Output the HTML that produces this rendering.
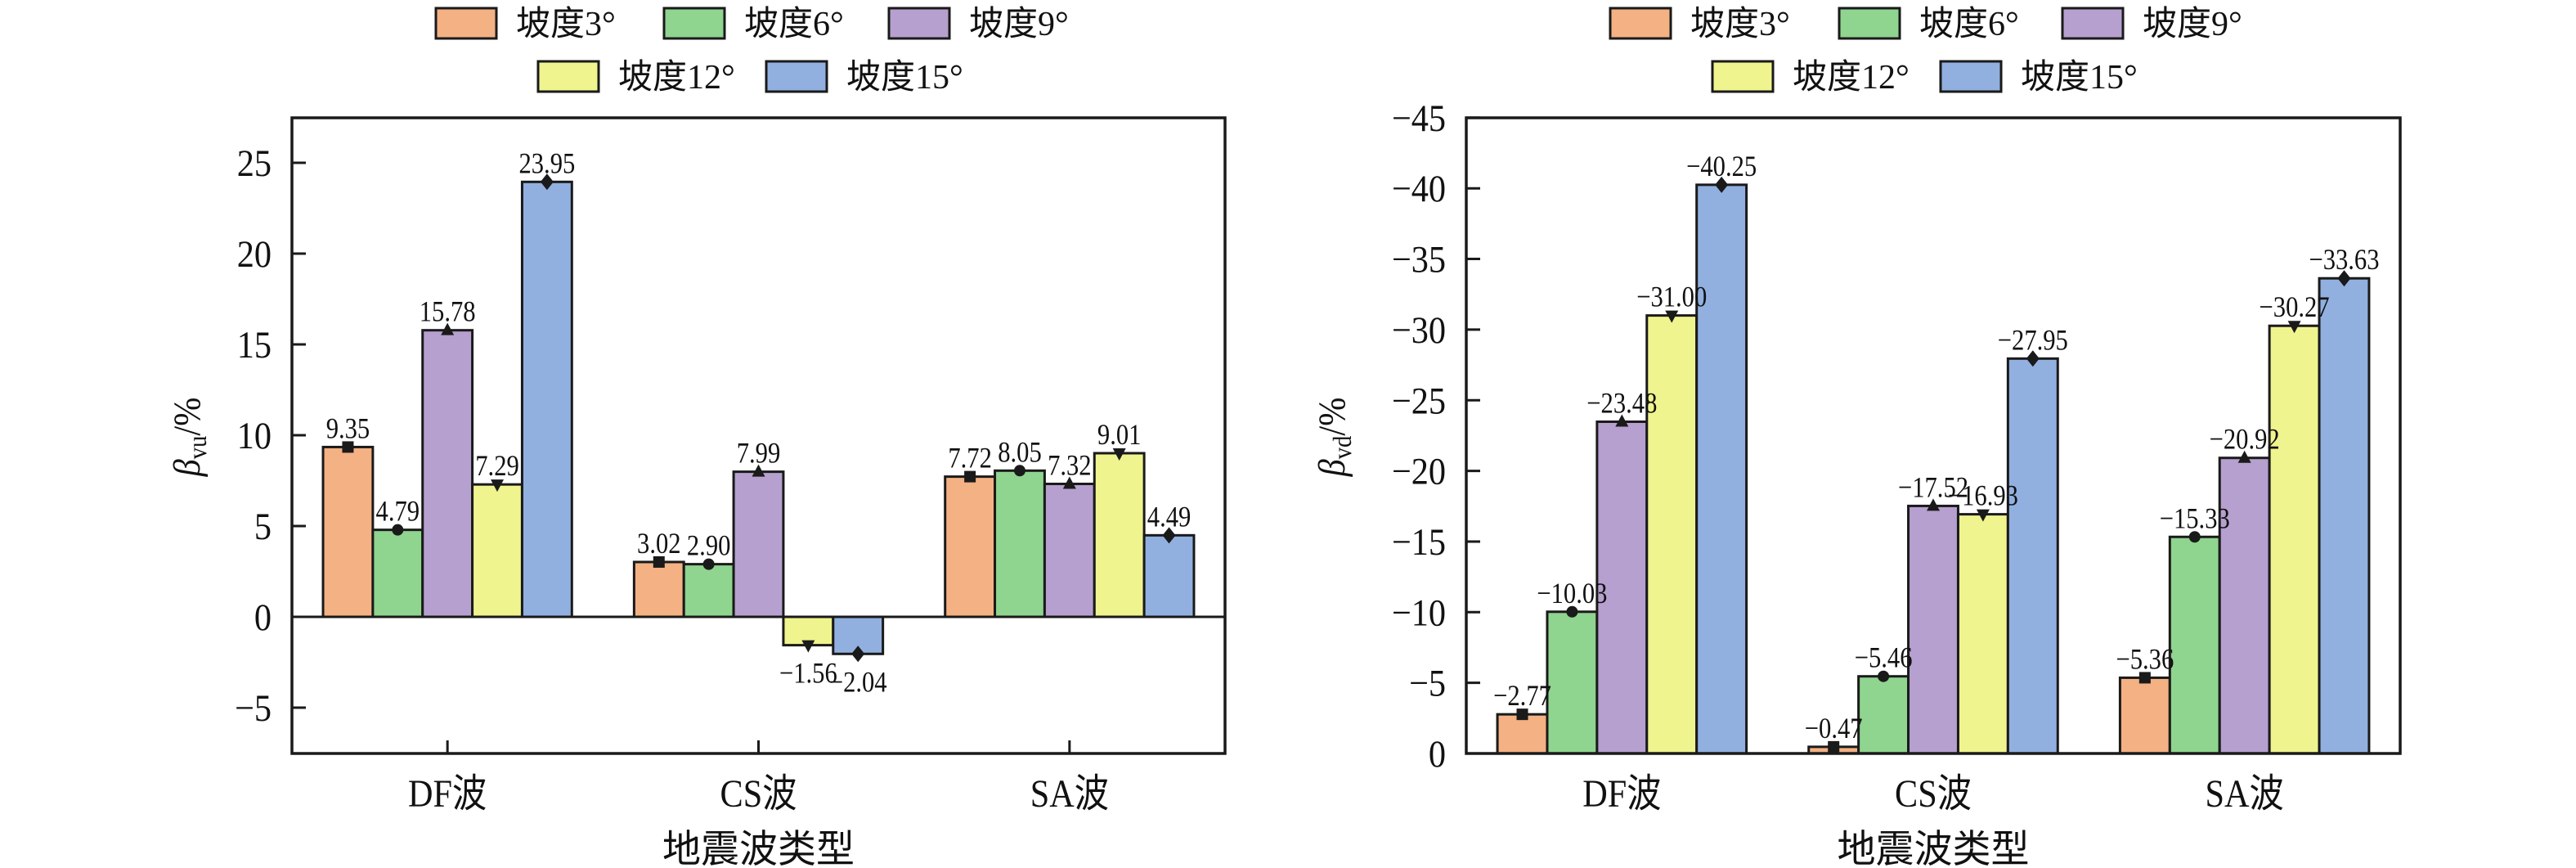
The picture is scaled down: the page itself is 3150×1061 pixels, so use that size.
<!DOCTYPE html>
<html><head><meta charset="utf-8">
<style>
html,body{margin:0;padding:0;background:#fff;}
svg{display:block;}
text{font-family:"Liberation Serif","Noto Serif CJK SC",serif;fill:#111;}
.cjk{font-family:"Liberation Serif","Noto Sans CJK SC",sans-serif;}
</style></head>
<body>
<svg id="s" width="3150" height="1061" xmlns="http://www.w3.org/2000/svg"></svg>
<script>
const NS="http://www.w3.org/2000/svg";
const svg=document.getElementById('s');
function el(tag,attrs,parent,txt){const e=document.createElementNS(NS,tag);for(const k in attrs)e.setAttribute(k,attrs[k]);if(txt!==undefined)e.textContent=txt;(parent||svg).appendChild(e);return e;}
const colors=["#F4B183","#8FD48F","#B6A0CF","#EFF48E","#91B0E0"];
const names=["坡度3°","坡度6°","坡度9°","坡度12°","坡度15°"];
function txt(x,y,s,size,anchor,sx,cls){
  const g=el('g',{transform:`translate(${x},${y}) scale(${sx||0.85},1)`});
  const t=el('text',{x:0,y:0,'font-size':size,'text-anchor':anchor||'middle'},g,s);
  if(cls)t.setAttribute('class',cls);
  return t;
}
function marker(i,x,y){
  const c="#1a1a1a",r=7;
  if(i==0)el('rect',{x:x-r,y:y-r,width:2*r,height:2*r,fill:c});
  else if(i==1)el('circle',{cx:x,cy:y,r:r,fill:c});
  else if(i==2)el('polygon',{points:`${x},${y-9} ${x-8},${y+6} ${x+8},${y+6}`,fill:c});
  else if(i==3)el('polygon',{points:`${x},${y+9} ${x-8},${y-6} ${x+8},${y-6}`,fill:c});
  else el('polygon',{points:`${x},${y-10} ${x+8},${y} ${x},${y+10} ${x-8},${y}`,fill:c});
}
function legend(sw){
  for(let i=0;i<5;i++){
    const [x,y]=sw[i];
    el('rect',{x:x,y:y,width:74,height:37,fill:colors[i],stroke:"#1a1a1a","stroke-width":3});
    el('text',{x:x+98,y:y+33,'font-size':42,'class':'cjk'},svg,names[i]);
  }
}
function chart(o){
  const {L,R,T,B,y0,ppu,data,labels,ticks,tickLab,cats,xticks,ylab,sub}=o;
  const w=R-L, cw=w/3, bw=cw*0.16;
  const ann=[];
  for(let c=0;c<3;c++){
    const cx=L+cw*(c+0.5);
    for(let i=0;i<5;i++){
      const v=data[c][i];
      const x=cx-cw*0.4+bw*i;
      const yv=y0 - v*ppu;
      const top=Math.min(y0,yv),h=Math.abs(yv-y0);
      el('rect',{x:x,y:top,width:bw,height:h,fill:colors[i],stroke:"#1a1a1a","stroke-width":3});
      ann.push([i,x+bw/2,yv,labels[c][i]]);
    }
  }
  el('rect',{x:L,y:T,width:w,height:B-T,fill:"none",stroke:"#1a1a1a","stroke-width":3.5});
  if(o.zero) el('line',{x1:L,x2:R,y1:y0,y2:y0,stroke:"#1a1a1a","stroke-width":3});
  ann.forEach(([i,x,yv,lab])=>{
    marker(i,x,yv);
    const below=(yv>y0+1);
    txt(x, below? yv+46 : yv-11, lab, 36);
  });
  ticks.forEach((v,k)=>{
    const y=y0-v*ppu;
    el('line',{x1:L,x2:L+17,y1:y,y2:y,stroke:"#1a1a1a","stroke-width":3});
    txt(L-25,y+16,tickLab[k],47,'end',0.9);
  });
  for(let c=0;c<3;c++){
    const cx=L+cw*(c+0.5);
    if(xticks) el('line',{x1:cx,x2:cx,y1:B,y2:B-16,stroke:"#1a1a1a","stroke-width":3});
    txt(cx,986,cats[c],48,'middle',0.88,'cjk');
  }
  el('text',{x:(L+R)/2,y:1054,'font-size':47,'text-anchor':'middle','class':'cjk'},svg,"地震波类型");
  const g=el('g',{transform:`translate(${ylab[0]},${ylab[1]}) rotate(-90) scale(0.9,1)`});
  const t=el('text',{x:0,y:0,'font-size':47,'text-anchor':'middle'},g);
  el('tspan',{'font-style':'italic'},t,"β");
  el('tspan',{'font-size':32,dy:8},t,sub);
  el('tspan',{dy:-8},t,"/%");
}
const cats=["DF波","CS波","SA波"];
chart({L:357,R:1498,T:144,B:921,y0:754,ppu:22.2,zero:true,xticks:true,
  data:[[9.35,4.79,15.78,7.29,23.95],[3.02,2.90,7.99,-1.56,-2.04],[7.72,8.05,7.32,9.01,4.49]],
  labels:[["9.35","4.79","15.78","7.29","23.95"],["3.02","2.90","7.99","−1.56","−2.04"],["7.72","8.05","7.32","9.01","4.49"]],
  ticks:[-5,0,5,10,15,20,25],tickLab:["−5","0","5","10","15","20","25"],
  cats:cats,ylab:[244,534],sub:"vu"});
chart({L:1793,R:2935,T:144,B:921,y0:921,ppu:17.27,zero:false,xticks:false,
  data:[[2.77,10.03,23.48,31.00,40.25],[0.47,5.46,17.52,16.93,27.95],[5.36,15.33,20.92,30.27,33.63]],
  labels:[["−2.77","−10.03","−23.48","−31.00","−40.25"],["−0.47","−5.46","−17.52","−16.93","−27.95"],["−5.36","−15.33","−20.92","−30.27","−33.63"]],
  ticks:[0,5,10,15,20,25,30,35,40,45],tickLab:["0","−5","−10","−15","−20","−25","−30","−35","−40","−45"],
  cats:cats,ylab:[1644,534],sub:"vd"});
legend([[533,10],[812,10],[1087,10],[658,75],[937,75]]);
legend([[1969,10],[2249,10],[2522,10],[2094,75],[2373,75]]);
</script>
</body></html>
